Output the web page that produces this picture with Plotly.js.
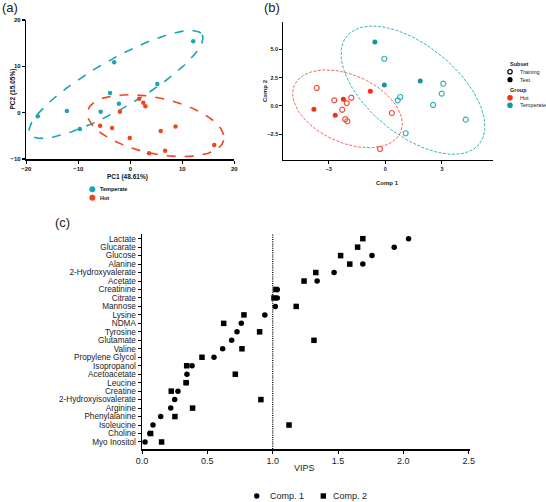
<!DOCTYPE html>
<html><head><meta charset="utf-8">
<script src="https://cdn.plot.ly/plotly-3.0.1.min.js"></script>
<style>html,body{margin:0;padding:0;background:#fff}#chart{width:546px;height:502px}</style>
</head><body><div id="chart"></div>
<script>
// ---------- Panel (a): PCA scores ----------
const pcaTemperateX = [12.1, -3.1, 5.2, -3.9, -2.2, -17.8, -12.2, -5.7, -9.7];
const pcaTemperateY = [15.4, 10.9, 6.2, 4.25, 1.95, -0.8, 0.37, 0.2, -3.5];
const pcaHotX = [1.7, 2.5, 2.9, -2.0, -5.8, -3.5, -0.1, 5.85, 8.7, 3.6, 6.7, 16.15];
const pcaHotY = [3.0, 2.16, 1.38, 0.22, -2.8, -3.3, -5.46, -3.95, -3.0, -8.77, -8.2, -6.98];
// confidence ellipses: [centerX, centerY, axis1X, axis1Y, axis2X, axis2Y]
const pcaEllipseTemperate = [-2.75, 6.09, 16.56, 10.73, 2.32, -4.51];
const pcaEllipseHot = [4.88, -2.81, 13.09, -3.13, -1.12, -5.91];
const pcaTicksX = [-20, -10, 0, 10, 20];
const pcaTicksY = [-10, 0, 10, 20];

// ---------- Panel (b): PLS-DA scores ----------
const plsTempTestX = [-0.55, -0.05, 1.85];
const plsTempTestY = [5.65, 1.85, 2.21];
const plsTempTrainX = [-0.05, 3.07, 2.99, 0.79, 0.66, 2.53, 4.26, 1.08];
const plsTempTrainY = [4.17, 1.97, 1.09, 0.79, 0.5, 0.09, -1.21, -2.41];
const plsHotTestX = [-0.79, -2.22, -3.78, -2.65];
const plsHotTestY = [1.30, 0.59, -0.29, -0.82];
const plsHotTrainX = [-3.63, -2.70, -1.80, -2.04, -2.28, -2.12, -2.01, 0.35, -0.28];
const plsHotTrainY = [1.59, 0.50, 0.73, 0.26, -0.33, -1.17, -1.35, -0.62, -3.80];
const plsEllipseHot = [-2.00, -0.25, 2.81, -2.085, -0.729, -2.726];
const plsEllipseTemperate = [1.467, 1.394, 3.505, -4.77, -1.493, -3.047];
const plsTicksX = [-3, 0, 3];
const plsTicksY = [-2.5, 0, 2.5, 5];

// ---------- Panel (c): VIP scores ----------
const metabolites = ['Lactate','Glucarate','Glucose','Alanine','2-Hydroxyvalerate','Acetate','Creatinine','Citrate','Mannose','Lysine','NDMA','Tyrosine','Glutamate','Valine','Propylene Glycol','Isopropanol','Acetoacetate','Leucine','Creatine','2-Hydroxyisovalerate','Arginine','Phenylalanine','Isoleucine','Choline','Myo Inositol'];
const vipComp1 = [2.04,1.93,1.76,1.69,1.47,1.34,1.035,1.035,1.02,0.94,0.76,0.727,0.686,0.617,0.551,0.383,0.344,0.34,0.275,0.25,0.22,0.143,0.084,0.06,0.023];
const vipComp2 = [1.69,1.65,1.52,1.59,1.33,1.24,1.025,1.01,1.18,0.78,0.625,0.90,1.316,0.765,0.459,0.342,0.714,0.337,0.224,0.91,0.387,0.252,1.125,0.066,0.15];
const vipThreshold = 1.0;
const vipTicks = [0, 0.5, 1.0, 1.5, 2.0, 2.5];

// ---------- helpers ----------
const W = 546, H = 502;
const px = v => v / W;
const py = v => 1 - v / H;
const FONT = 'Liberation Sans, Arial, Helvetica, sans-serif';

function ellipse(p) {
  const xs = [], ys = [];
  for (let i = 0; i <= 120; i++) {
    const t = 2 * Math.PI * i / 120;
    xs.push(p[0] + Math.cos(t) * p[2] + Math.sin(t) * p[4]);
    ys.push(p[1] + Math.cos(t) * p[3] + Math.sin(t) * p[5]);
  }
  return {x: xs, y: ys};
}

const cTeal = '#1BA6B1', cRed = '#F2441D';
const cTealB = '#14969D', cTealBOpen = '#35B2B9', cRedB = '#F4301A', cRedBOpen = '#F0553F';
const cEllRedB = '#F26A5B', cEllTealB = '#3AB4BA';

const eTa = ellipse(pcaEllipseTemperate), eHa = ellipse(pcaEllipseHot);
const eHb = ellipse(plsEllipseHot), eTb = ellipse(plsEllipseTemperate);

const traces = [
  // (a)
  {x: eTa.x, y: eTa.y, xaxis:'x', yaxis:'y', mode:'lines', line:{color:cTeal, width:1.6, dash:'dash'}, hoverinfo:'skip'},
  {x: eHa.x, y: eHa.y, xaxis:'x', yaxis:'y', mode:'lines', line:{color:cRed, width:1.6, dash:'dash'}, hoverinfo:'skip'},
  {x: pcaTemperateX, y: pcaTemperateY, xaxis:'x', yaxis:'y', mode:'markers', name:'Temperate', marker:{color:cTeal, size:4.5}},
  {x: pcaHotX, y: pcaHotY, xaxis:'x', yaxis:'y', mode:'markers', name:'Hot', marker:{color:cRed, size:4.5}},
  // (b)
  {x: eHb.x, y: eHb.y, xaxis:'x2', yaxis:'y2', mode:'lines', line:{color:cEllRedB, width:1, dash:'3px,1.5px'}, hoverinfo:'skip'},
  {x: eTb.x, y: eTb.y, xaxis:'x2', yaxis:'y2', mode:'lines', line:{color:cEllTealB, width:1, dash:'3px,1.5px'}, hoverinfo:'skip'},
  {x: plsHotTrainX, y: plsHotTrainY, xaxis:'x2', yaxis:'y2', mode:'markers', marker:{symbol:'circle-open', color:cRedBOpen, size:5, line:{width:1.2}}},
  {x: plsTempTrainX, y: plsTempTrainY, xaxis:'x2', yaxis:'y2', mode:'markers', marker:{symbol:'circle-open', color:cTealBOpen, size:5, line:{width:1.2}}},
  {x: plsHotTestX, y: plsHotTestY, xaxis:'x2', yaxis:'y2', mode:'markers', marker:{color:cRedB, size:5}},
  {x: plsTempTestX, y: plsTempTestY, xaxis:'x2', yaxis:'y2', mode:'markers', marker:{color:cTealB, size:5}},
  // (c)
  {x: vipComp2, y: metabolites, xaxis:'x3', yaxis:'y3', mode:'markers', name:'Comp. 2', marker:{symbol:'square', color:'#000', size:5.5}},
  {x: vipComp1, y: metabolites, xaxis:'x3', yaxis:'y3', mode:'markers', name:'Comp. 1', marker:{symbol:'circle', color:'#000', size:5.5}}
];

const axBase = {showgrid:false, zeroline:false, showline:true, linecolor:'#000', ticks:'outside', tickcolor:'#000', fixedrange:true};

function ann(text, x, y, opts) {
  return Object.assign({text:text, x:px(x), y:py(y), xref:'paper', yref:'paper', showarrow:false,
    xanchor:'center', yanchor:'middle', font:{family:FONT, size:9, color:'#222'}}, opts || {});
}
function dot(x, y, r, fill, line, sym) {
  return {type: sym || 'circle', xref:'paper', yref:'paper', xsizemode:'pixel', ysizemode:'pixel',
    xanchor:px(x), yanchor:py(y), x0:-r, x1:r, y0:-r, y1:r,
    fillcolor: fill, line:{color: line, width: fill === 'rgba(0,0,0,0)' ? 1.2 : 0}};
}

const bold6 = {family:FONT, size:6, color:'#111', weight:700};
const small = {family:FONT, size:5.5, color:'#222'};

const layout = {
  width: W, height: H, margin:{l:0, r:0, t:0, b:0}, paper_bgcolor:'#fff', plot_bgcolor:'rgba(0,0,0,0)',
  showlegend:false, font:{family:FONT},
  xaxis: Object.assign({}, axBase, {domain:[px(26.3), px(234.3)], range:[-20, 20], anchor:'y', tickmode:'array', tickvals:pcaTicksX,
    linewidth:1.5, tickwidth:1.5, ticklen:3, tickfont:bold6}),
  yaxis: Object.assign({}, axBase, {domain:[py(159), py(20)], range:[-10, 20], anchor:'x', tickmode:'array', tickvals:pcaTicksY,
    linewidth:1.5, tickwidth:1.5, ticklen:3, tickfont:bold6}),
  xaxis2: Object.assign({}, axBase, {domain:[px(283.3), px(493.3)], range:[-5.40, 5.72], anchor:'y2', tickmode:'array', tickvals:plsTicksX,
    linewidth:1, tickwidth:1, ticklen:3, tickfont:{family:FONT, size:5.5, color:'#222', weight:700}}),
  yaxis2: Object.assign({}, axBase, {domain:[py(160), py(21.7)], range:[-4.77, 7.44], anchor:'x2', tickmode:'array', tickvals:plsTicksY,
    tickformat:'.1f', linewidth:1, tickwidth:1, ticklen:3, tickfont:{family:FONT, size:5.5, color:'#222', weight:700}}),
  xaxis3: Object.assign({}, axBase, {domain:[px(142), px(470)], range:[0, 2.51], anchor:'y3', tickmode:'array', tickvals:vipTicks,
    tickformat:'.1f', linewidth:1.5, tickwidth:1, ticklen:3, tickfont:{family:FONT, size:9, color:'#222'}}),
  yaxis3: Object.assign({}, axBase, {domain:[py(449), py(234)], type:'category', categoryorder:'array',
    categoryarray: metabolites.slice().reverse(), range:[-0.83, 24.55], anchor:'x3', tickmode:'linear', tick0:0, dtick:1,
    linewidth:1.5, tickwidth:1, ticklen:3, tickfont:{family:FONT, size:8.2, color:'#222'}}),
  shapes: [
    {type:'line', xref:'x3', yref:'y3 domain', x0:vipThreshold, x1:vipThreshold, y0:0, y1:1, line:{color:'#111', width:1.4, dash:'1px,1.2px'}},
    // legend (a)
    dot(92.3, 189.3, 3, cTeal, cTeal),
    dot(92.3, 197.7, 3, cRed, cRed),
    // legend (b)
    dot(510, 71.7, 2.2, 'rgba(0,0,0,0)', '#000'),
    dot(510, 79.7, 2.6, '#000', '#000'),
    dot(510, 97.7, 2.8, cRedB, cRedB),
    dot(510, 105.3, 2.8, cTealB, cTealB),
    // legend (c)
    dot(256.7, 496, 2.7, '#000', '#000'),
    dot(323.3, 496, 2.7, '#000', '#000', 'rect')
  ],
  annotations: [
    ann('(a)', 10, 7.5, {font:{family:FONT, size:13, color:'#222'}}),
    ann('(b)', 272, 7.5, {font:{family:FONT, size:13, color:'#222'}}),
    ann('(c)', 62.5, 222, {font:{family:FONT, size:13, color:'#222'}}),
    ann('PC2 (15.05%)', 12, 89.5, {textangle:-90, font:{family:FONT, size:6.5, color:'#111', weight:700}}),
    ann('PC1 (48.61%)', 127, 176.7, {font:{family:FONT, size:6.5, color:'#111', weight:700}}),
    ann('Comp 1', 387, 183, {font:{family:FONT, size:6, color:'#222', weight:700}}),
    ann('Comp 2', 265, 91, {textangle:-90, font:{family:FONT, size:6, color:'#222', weight:700}}),
    ann('VIPS', 304.5, 467.7, {font:{family:FONT, size:9, color:'#222'}}),
    ann('Temperate', 98, 189.3, {xanchor:'left', font:{family:FONT, size:5.5, color:'#111', weight:700}}),
    ann('Hot', 98, 197.7, {xanchor:'left', font:{family:FONT, size:5.5, color:'#111', weight:700}}),
    ann('Subset', 508, 63.7, {xanchor:'left', font:{family:FONT, size:5.5, color:'#222', weight:700}}),
    ann('Training', 518, 71.7, {xanchor:'left', font:small}),
    ann('Test', 518, 79.7, {xanchor:'left', font:small}),
    ann('Group', 508, 90, {xanchor:'left', font:{family:FONT, size:5.5, color:'#222', weight:700}}),
    ann('Hot', 518, 97.7, {xanchor:'left', font:small}),
    ann('Temperate', 518, 105.3, {xanchor:'left', font:small}),
    ann('Comp. 1', 268, 496, {xanchor:'left', font:{family:FONT, size:9, color:'#222'}}),
    ann('Comp. 2', 331, 496, {xanchor:'left', font:{family:FONT, size:9, color:'#222'}})
  ]
};

Plotly.newPlot('chart', traces, layout, {staticPlot:true, displayModeBar:false});
</script>
</body></html>
